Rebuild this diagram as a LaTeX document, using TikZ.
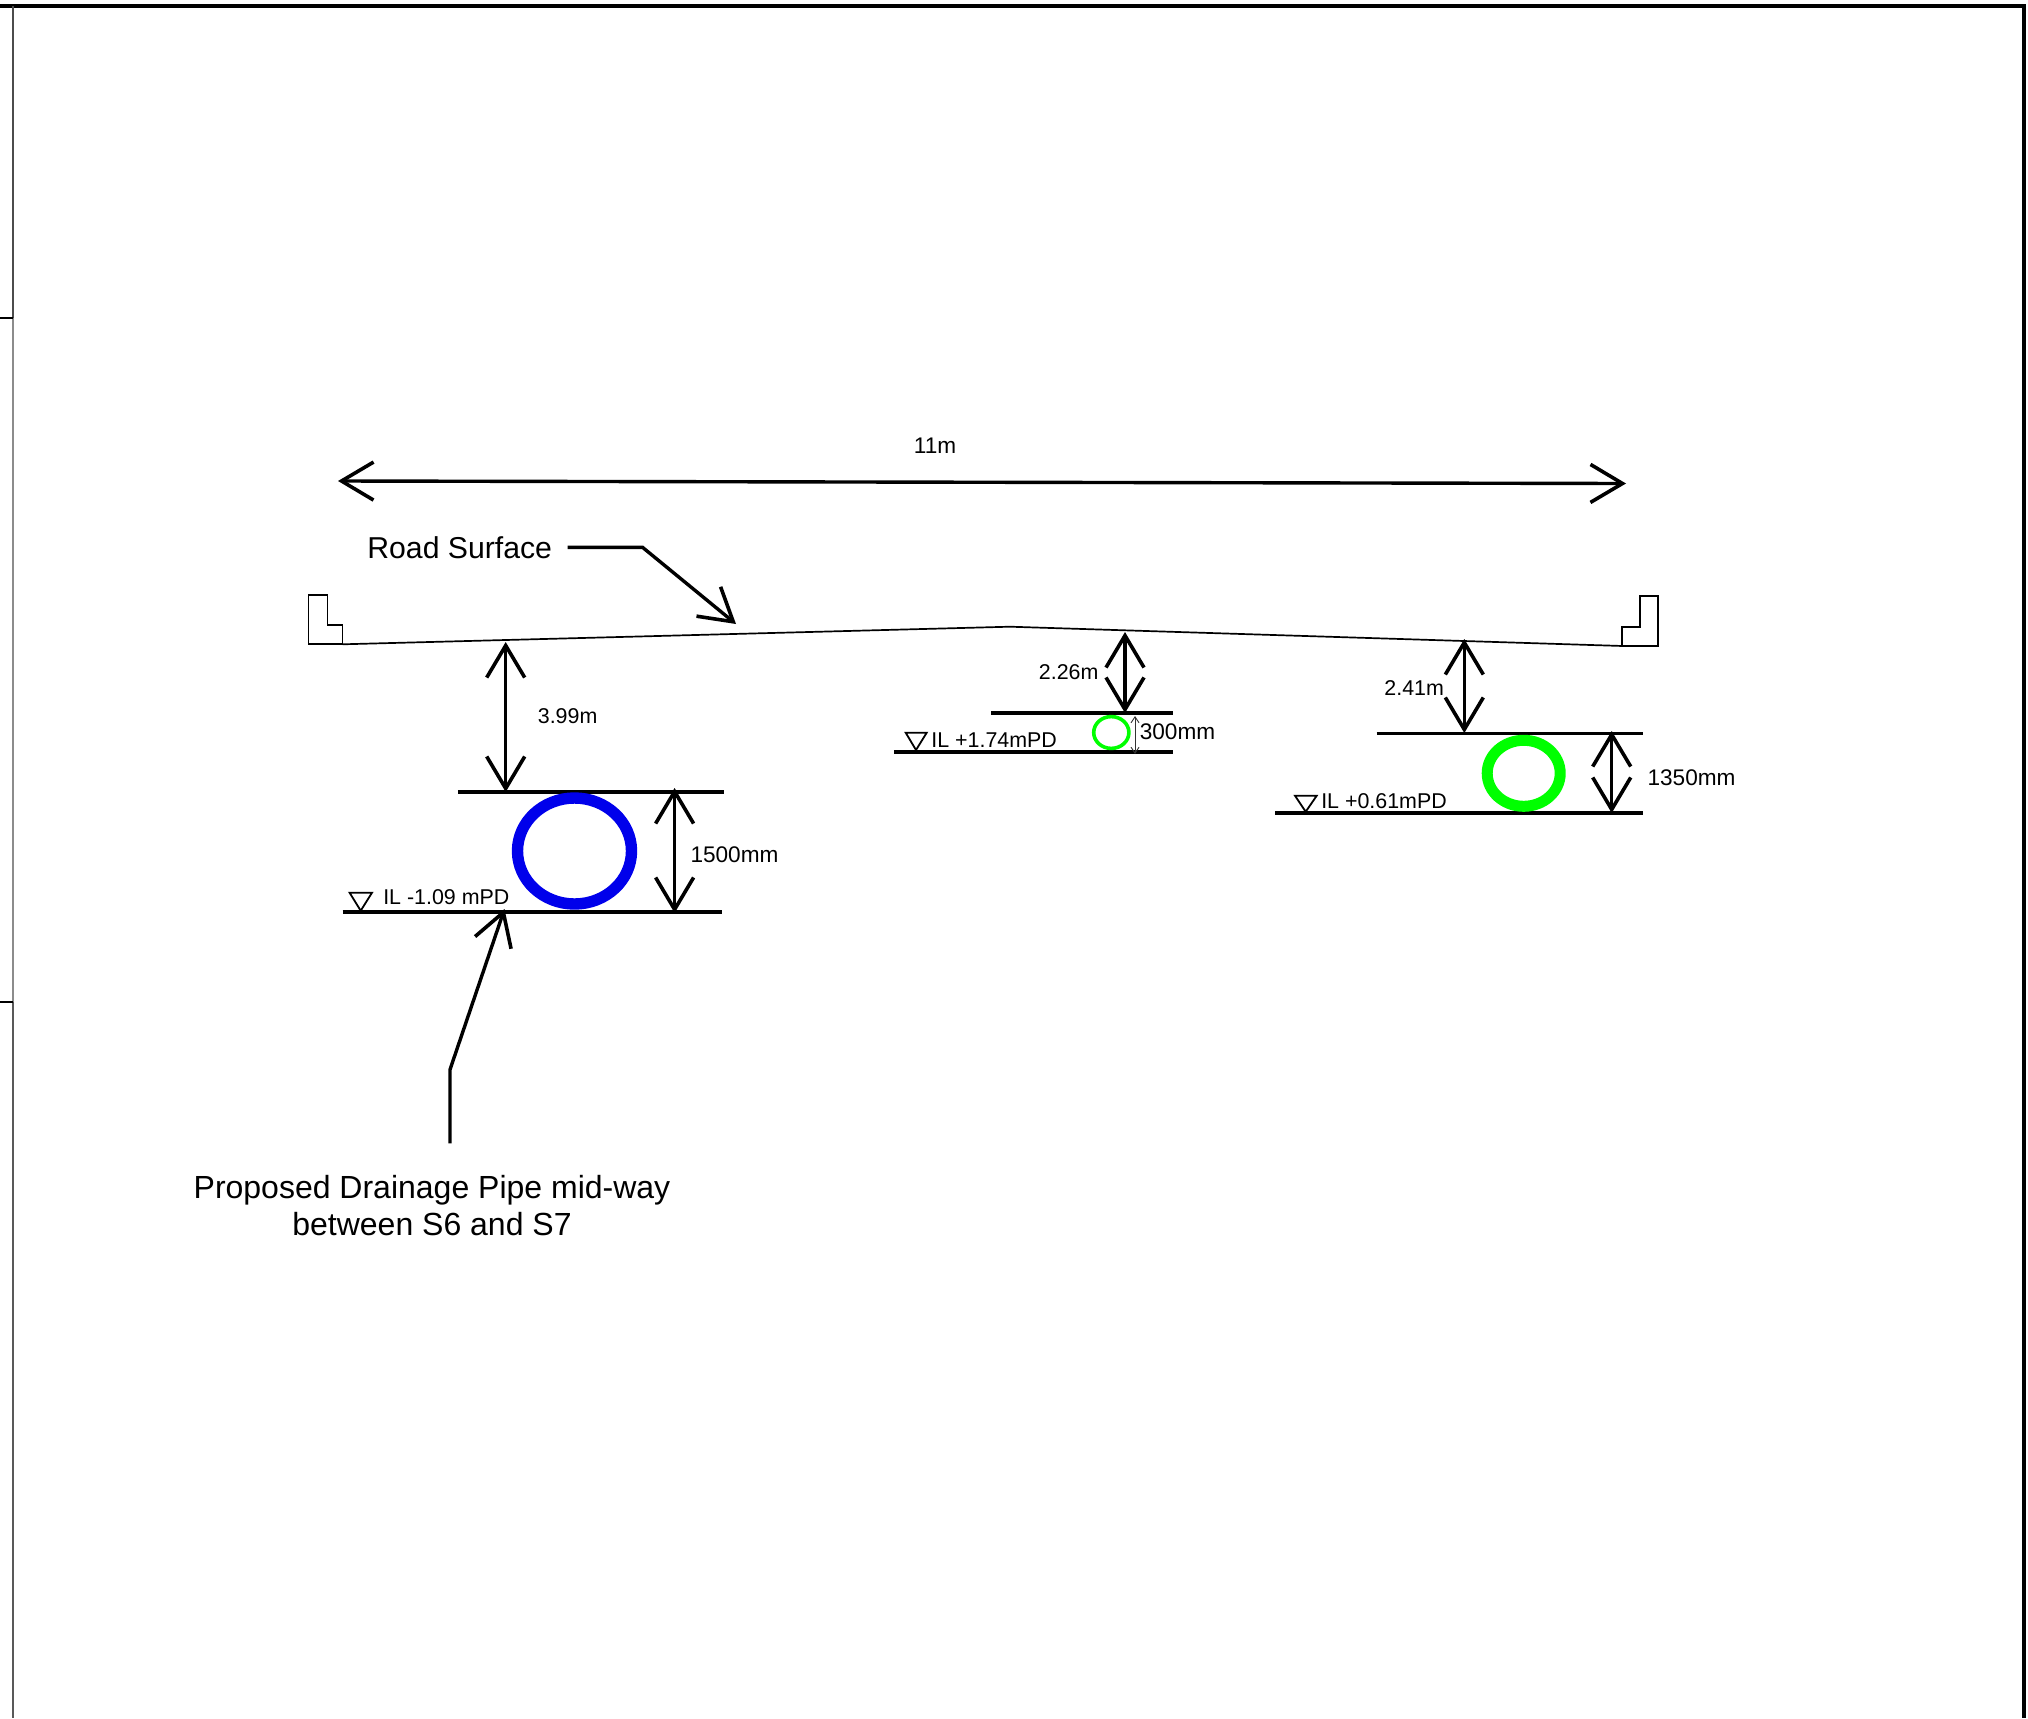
\documentclass[tikz,border=0pt]{standalone}
\usepackage{fontspec}
\setmainfont{Liberation Sans}
\usetikzlibrary{arrows.meta}
\definecolor{pipeblue}{RGB}{0,0,235}
\definecolor{pipegreen}{RGB}{0,255,0}
\tikzset{
  x=0.5pt,y=-0.5pt,
  bigbarb/.tip={Straight Barb[length=16pt,width=19pt,line width=1.8pt]},
  dimline/.style={draw=black,line width=1.7pt,bigbarb-bigbarb},
  leader/.style={draw=black,line width=1.7pt,-bigbarb},
  level/.style={draw=black,line width=1.8pt},
  thinoutline/.style={draw=black,line width=0.85pt},
  smalltext/.style={inner sep=0pt,font=\fontsize{10.7}{12}\selectfont},
  midtext/.style={inner sep=0pt,font=\fontsize{11.3}{13}\selectfont},
  largetext/.style={inner sep=0pt,align=center,font=\fontsize{15.1}{18.5}\selectfont},
  pipetext/.style={inner sep=0pt,align=center,font=\fontsize{16}{18.5}\selectfont},
}
\begin{document}
\begin{tikzpicture}
\useasboundingbox (0,0) rectangle (2028,1718);
\fill[white] (0,0) rectangle (2028,1718);
% sheet frame
\draw[black,line width=1.9pt] (0,6) -- (2026,6);
\draw[black,line width=2pt] (2024,5) -- (2024,1718);
\draw[black!70,line width=1.1pt] (13,6) -- (13,318);
\draw[black!45,line width=1.1pt] (13,318) -- (13,1002);
\draw[black!65,line width=1.1pt] (13,1002) -- (13,1718);
\draw[black,line width=1pt] (0,318) -- (13,318);
\draw[black,line width=1pt] (0,1002) -- (13,1002);
% road surface and kerbs
\draw[thinoutline] (342.5,644.3) -- (1010,626.7) -- (1622.7,646);
\draw[thinoutline] (308.6,595) -- (327.5,595) -- (327.5,624.7) -- (342.5,624.7) -- (342.5,644.3) -- (308.6,644.3) -- cycle;
\draw[thinoutline] (1622.3,646) -- (1622.3,626.7) -- (1640,626.7) -- (1640,596) -- (1657.7,596) -- (1657.7,646) -- cycle;
% reference coordinates
\coordinate (spanL) at (338,481);
\coordinate (spanR) at (1626,483.5);
\coordinate (roadA) at (505.7,642);
\coordinate (roadB) at (1125,632);
\coordinate (roadC) at (1464.3,639);
\coordinate (topA) at (505.7,792);
\coordinate (topB) at (1125,713);
\coordinate (topC) at (1464.3,733);
\coordinate (dimAt) at (674.6,788);
\coordinate (dimAb) at (674.6,913);
\coordinate (dimCt) at (1611.7,731);
\coordinate (dimCb) at (1611.7,813);
\coordinate (dimBt) at (1135,716);
\coordinate (dimBb) at (1135,754);
\coordinate (roadTip) at (736,624);
\coordinate (roadBend) at (642.5,547.3);
\coordinate (pipeTip) at (504.5,909);
\coordinate (pipeBend) at (450,1069.6);
\coordinate (pipeStart) at (450,1143.3);
% level lines
\draw[level] (457.9,791.7) -- (723.9,791.7);
\draw[level] (342.5,912) -- (721.8,912);
\draw[level] (991,712.7) -- (1173.3,712.7);
\draw[level,line width=1.6pt] (894,752) -- (1172.7,752);
\draw[level] (1376.7,733.3) -- (1642.7,733.3);
\draw[level] (1275,812.7) -- (1642.7,812.7);
% pipes
\draw[pipeblue,line width=5.7pt] (574.5,851) ellipse [x radius=57,y radius=53];
\draw[pipegreen,line width=1.8pt] (1111.3,732.5) ellipse [x radius=17.6,y radius=15.9];
\draw[pipegreen,line width=5.5pt] (1523.7,773.3) ellipse [x radius=36.5,y radius=33];
% invert triangles
\draw[thinoutline,line width=0.9pt] (349.6,892.7) -- (372,892.7) -- (360.7,910.7) -- cycle;
\draw[thinoutline,line width=0.9pt] (905.7,732.7) -- (926.7,732.7) -- (916,750) -- cycle;
\draw[thinoutline,line width=0.9pt] (1295,795.7) -- (1316.7,795.7) -- (1305.7,811.7) -- cycle;
% dimension arrows
\draw[dimline] (spanL) -- (spanR);
\draw[dimline] (roadA) -- (topA);
\draw[dimline] (dimAt) -- (dimAb);
\draw[dimline,line width=2pt] (roadB) -- (topB);
\draw[dimline] (roadC) -- (topC);
\draw[dimline] (dimCt) -- (dimCb);
\draw[black!80,line width=0.45pt,{Straight Barb[length=3pt,width=4pt]}-{Straight Barb[length=3pt,width=4pt]}] (dimBt) -- (dimBb);
% leaders
\draw[leader] (567.5,547.3) -- (roadBend) -- (roadTip);
\draw[leader] (pipeStart) -- (pipeBend) -- (pipeTip);
% labels
\node[midtext] (lspan) at (935,446) {11m};
\node[largetext] (lroad) at (459.7,547.5) {Road Surface};
\node[smalltext] (la) at (567.6,716) {3.99m};
\node[midtext] (lb) at (734.5,854.5) {1500mm};
\node[smalltext] (lc) at (446.3,897) {IL -1.09 mPD};
\node[smalltext] (ld) at (1068.7,671.7) {2.26m};
\node[midtext] (le) at (1177.5,731.7) {300mm};
\node[smalltext] (lf) at (994.2,740) {IL +1.74mPD};
\node[smalltext] (lg) at (1414.2,688.3) {2.41m};
\node[midtext] (lh) at (1691.5,777.3) {1350mm};
\node[smalltext] (li) at (1384,800.7) {IL +0.61mPD};
\node[pipetext] (lpipe) at (432,1206) {Proposed Drainage Pipe mid-way\\between S6 and S7};
\end{tikzpicture}
\end{document}
